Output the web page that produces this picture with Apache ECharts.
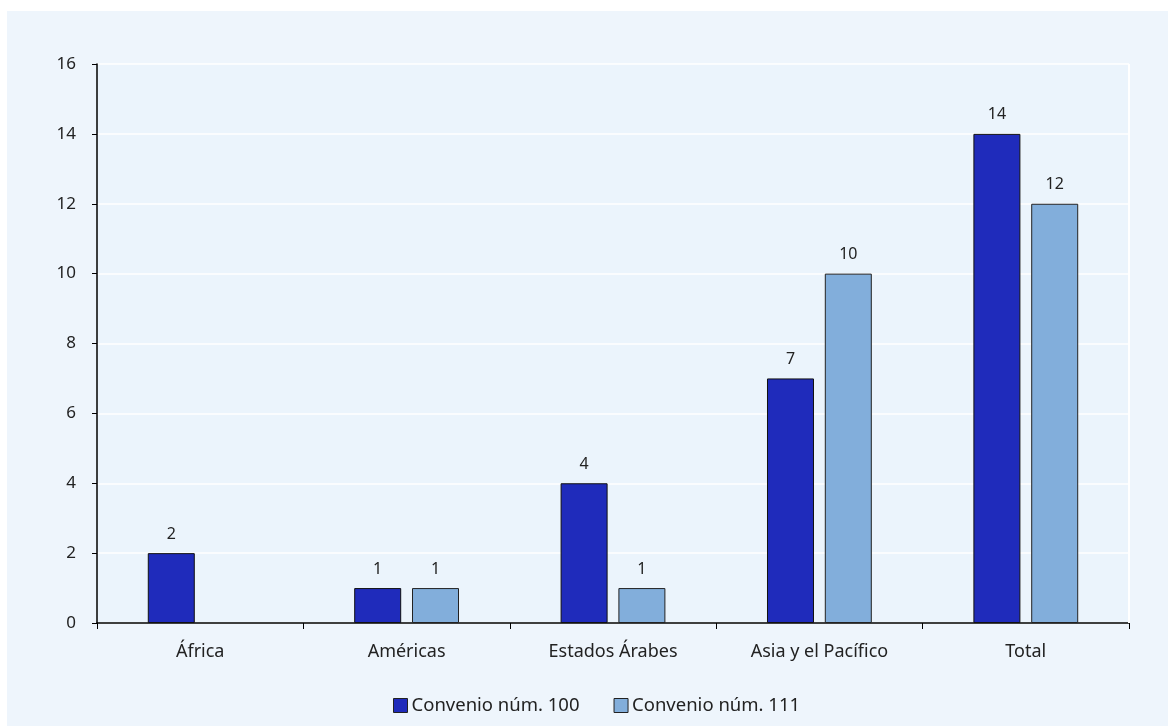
<!DOCTYPE html>
<html><head><meta charset="utf-8">
<script src="https://cdn.jsdelivr.net/npm/echarts@6/dist/echarts.min.js"></script>
<style>html,body{margin:0;padding:0;background:#fff;}#c{width:1168px;height:726px;}</style>
</head><body><div id="c"></div>
<script>
var categories = ['África', 'Américas', 'Estados Árabes', 'Asia y el Pacífico', 'Total'];
var seriesNames = ['Convenio núm. 100', 'Convenio núm. 111'];
var conv100 = [2, 1, 4, 7, 14];
var conv111 = [null, 1, 1, 10, 12];
var yTicks = { min: 0, max: 16, interval: 2 };

var chart = echarts.init(document.getElementById('c'), null, {renderer: 'canvas'});
var font = "'Noto Sans', 'Open Sans', sans-serif";
chart.setOption({
  backgroundColor: '#ffffff',
  animation: false,
  graphic: [{
    type: 'rect', z: -10, silent: true,
    shape: {x: 7, y: 11, width: 1161, height: 715},
    style: {fill: '#EEF5FC'}
  }, {
    type: 'line', z: 1, silent: true,
    shape: {x1: 1129, y1: 64, x2: 1129, y2: 623},
    style: {stroke: '#ffffff', lineWidth: 2}
  }],
  grid: {left: 97, right: 39, top: 64, bottom: 103, show: true, backgroundColor: '#EBF4FC', borderWidth: 0},
  legend: {
    bottom: 6, left: 388, itemWidth: 14, itemHeight: 14, itemGap: 34,
    icon: 'rect',
    textStyle: {fontFamily: font, fontSize: 18.5, color: '#222', padding: [0, 0, 0, -1]},
    data: seriesNames.map(function(n){return {name: n, itemStyle: {borderColor: '#222', borderWidth: 1}};})
  },
  xAxis: {
    type: 'category', data: categories,
    axisLine: {lineStyle: {color: '#000', width: 1.5}},
    axisTick: {show: true, length: 6, lineStyle: {color: '#000'}},
    axisLabel: {fontFamily: font, fontSize: 18, color: '#222', margin: 20}
  },
  yAxis: {
    type: 'value', min: yTicks.min, max: yTicks.max, interval: yTicks.interval,
    axisLine: {show: true, lineStyle: {color: '#000', width: 1.5}},
    axisTick: {show: true, length: 5, lineStyle: {color: '#000'}},
    splitLine: {show: true, lineStyle: {color: '#ffffff', width: 1.5}},
    axisLabel: {fontFamily: font, fontSize: 17, color: '#222', margin: 21}
  },
  series: [{
    name: seriesNames[0], type: 'bar', data: conv100, barWidth: 47, barGap: '23%',
    itemStyle: {color: '#1F2BBB', borderColor: '#111', borderWidth: 1},
    label: {show: true, position: 'top', distance: 11, fontFamily: font, fontSize: 16, color: '#222'}
  }, {
    name: seriesNames[1], type: 'bar', data: conv111, barWidth: 47,
    itemStyle: {color: '#82AEDB', borderColor: '#222', borderWidth: 1},
    label: {show: true, position: 'top', distance: 11, fontFamily: font, fontSize: 16, color: '#222'}
  }]
});
</script></body></html>
